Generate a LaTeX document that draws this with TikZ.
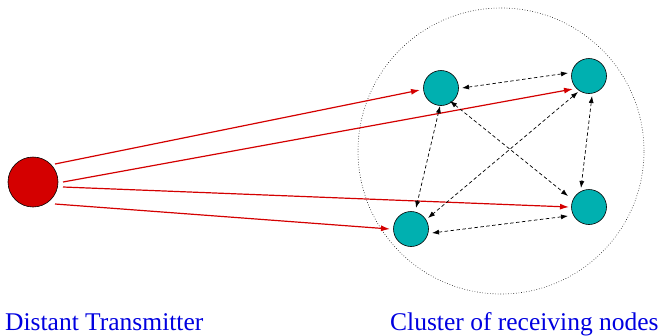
\documentclass[tikz,border=0pt]{standalone}
\usepackage{fontspec}
\setmainfont{Liberation Serif}
\usetikzlibrary{arrows.meta}
\definecolor{txred}{HTML}{D40000}
\definecolor{rxteal}{HTML}{00B0B0}
\definecolor{lblue}{HTML}{0000E0}
\tikzset{
  tx/.style={circle,draw=black,fill=txred,minimum size=50pt,inner sep=0pt,line width=0.6pt},
  rx/.style={circle,draw=black,fill=rxteal,minimum size=35pt,inner sep=0pt,line width=0.6pt},
  sig/.style={draw=txred,line width=1.2pt,-{Latex[length=9pt,width=6pt]}},
  link/.style={draw=black,line width=0.7pt,dash pattern=on 3.5pt off 2.5pt,{Latex[length=7pt,width=5pt]}-{Latex[length=7pt,width=5pt]}},
  lbl/.style={text=lblue,font=\fontsize{25.5}{30}\selectfont,inner sep=0pt,anchor=base west}
}
\begin{document}
\begin{tikzpicture}[x=1pt,y=-1pt]
\useasboundingbox (0,0) rectangle (660,335);
\node[circle,draw=black,dotted,line width=0.6pt,minimum size=286pt,inner sep=0pt] (cl) at (501,151) {};
\node[tx] (T) at (33,182) {};
\node[rx] (A) at (441,88) {};
\node[rx] (B) at (589,76) {};
\node[rx] (C) at (589,207) {};
\node[rx] (D) at (411,229) {};
% signal start points
\coordinate (s1) at (55,164);
\coordinate (s2) at (63,182);
\coordinate (s3) at (63,187);
\coordinate (s4) at (55,204);
\coordinate (e1) at (420,90);
\coordinate (e2) at (573,89);
\coordinate (e3) at (569,207);
\coordinate (e4) at (390,229);
\draw[sig] (s1) -- (e1);
\draw[sig] (s2) -- (e2);
\draw[sig] (s3) -- (e3);
\draw[sig] (s4) -- (e4);
% links
\draw[link] (462,88) -- (568,73);
\draw[link] (440,106) -- (416,208);
\draw[link] (450,101) -- (568,196);
\draw[link] (578,92) -- (428,218);
\draw[link] (592,96) -- (581,188);
\draw[link] (432,233) -- (568,216);
\node[lbl] (l1) at (5,330) {Distant Transmitter};
\node[lbl] (l2) at (390,330) {Cluster of receiving nodes};
\end{tikzpicture}
\end{document}
